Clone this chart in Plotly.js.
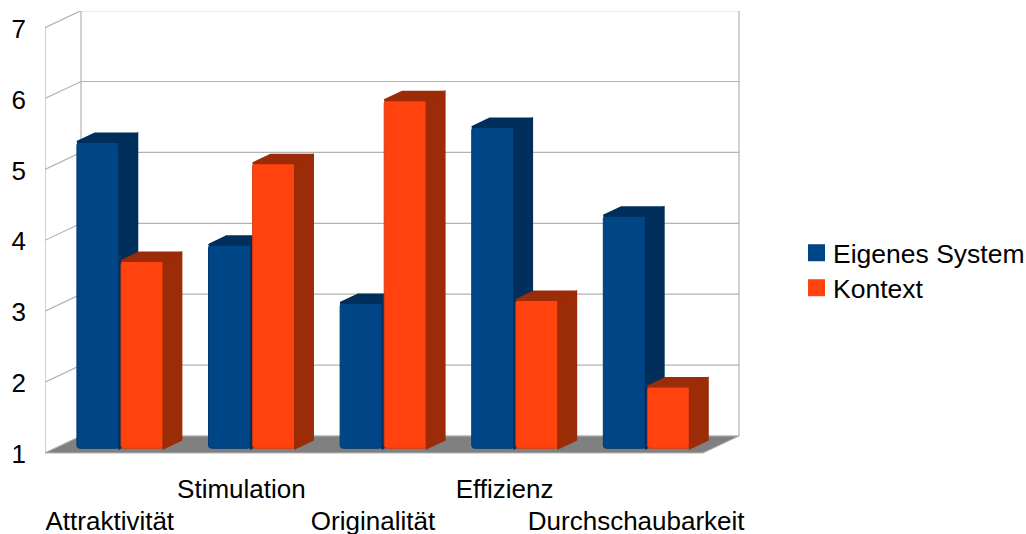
<!DOCTYPE html>
<html>
<head>
<meta charset="utf-8">
<script src="https://cdn.plot.ly/plotly-3.0.1.min.js"></script>
<style>
  html, body { margin: 0; padding: 0; background: #fff; }
  #chart { width: 1026px; height: 534px; }
</style>
</head>
<body>
<div id="chart"></div>
<script>
// UX rating per quality dimension, two series on a 1-7 scale
const categories = ["Attraktivität", "Stimulation", "Originalität", "Effizienz", "Durchschaubarkeit"];
const eigenesSystem = [5.32, 3.87, 3.05, 5.53, 4.28];
const kontext = [3.64, 5.02, 5.91, 3.09, 1.87];
const scaleTicks = [1, 2, 3, 4, 5, 6, 7];

const seriesColors = { blue: "#004586", orange: "#ff420e" };
const shadeColors = { blue: "#002f5c", orange: "#9c2c08" };
const edgeColors = { blue: "#003a72", orange: "#d93a0c" };
const wallColor = "#b3b3b3";
const floorColor = "#808080";

// Plot frame and unit sizes in pixels; the value 1 sits one pixel above the frame's bottom
const frame = { left: 45, right: 741, top: 11, bottom: 454 };
const slotPx = 131.6, unitPx = 70.9;
const wallDepth = { x: 36 / slotPx, y: 17 / unitPx };    // front plane to back wall
const barPlane = { x: 10.6 / slotPx, y: 4.7 / unitPx };  // front plane to the bars' front faces
const barDepth = { x: 18 / slotPx, y: 8.5 / unitPx };    // bar front face to bar rear face
const barWidth = 0.322;
const faceStroke = 2;

const xRange = [-0.5, -0.5 + (frame.right - frame.left) / slotPx];
const yRange = [1 - 1 / unitPx, 1 + (frame.bottom - 1 - frame.top) / unitPx];

// Polyline with gaps, from a list of segments
function joined(parts) {
  const xs = [], ys = [];
  parts.forEach(p => {
    p.forEach(c => { xs.push(c[0]); ys.push(c[1]); });
    xs.push(null); ys.push(null);
  });
  return { x: xs, y: ys };
}

// Side and top faces of each bar
function faces(values, offset, color, axes) {
  const side = [], top = [];
  values.forEach((v, i) => {
    const l = i + offset, r = l + barWidth, dx = barDepth.x, dy = barDepth.y;
    side.push([[r, v], [r + dx, v + dy], [r + dx, 1 + dy], [r, 1], [r, v]]);
    top.push([[l, v], [l + dx, v + dy], [r + dx, v + dy], [r, v], [l, v]]);
  });
  const poly = joined(side.concat(top));
  return {
    type: "scatter", mode: "lines", x: poly.x, y: poly.y, fill: "toself",
    fillcolor: color, line: { color: color, width: faceStroke }, xaxis: axes[0], yaxis: axes[1],
    showlegend: false, hoverinfo: "skip", cliponaxis: false
  };
}

function bars(name, values, offset, key, axes, legendId) {
  return {
    type: "bar", name: name, x: categories.map((_, i) => i), y: values.map(v => v - 1), base: 1,
    offset: offset, width: barWidth, xaxis: axes[0], yaxis: axes[1], cliponaxis: false, legend: legendId,
    marker: { color: seriesColors[key], cornerradius: 3, line: { color: edgeColors[key], width: 1 } },
    hoverinfo: "name+x+text", text: values.map(String), textposition: "none"
  };
}

// Chart walls and floor
const frontLeft = xRange[0];
const backLeft = frontLeft + wallDepth.x, backRight = categories.length - 0.5 + wallDepth.x;
const floor = joined([[
  [frontLeft, 1], [backLeft, 1 + wallDepth.y],
  [backRight, 1 + wallDepth.y], [categories.length - 0.5, 1], [frontLeft, 1]
]]);
const topTick = scaleTicks[scaleTicks.length - 1];
const wallParts = [
  [[frontLeft, 1], [frontLeft, topTick]],
  [[backLeft, 1 + wallDepth.y], [backLeft, topTick + wallDepth.y]],
  [[backRight, 1 + wallDepth.y], [backRight, topTick + wallDepth.y]]
];
scaleTicks.forEach(t => {
  wallParts.push([[frontLeft, t], [backLeft, t + wallDepth.y], [backRight, t + wallDepth.y]]);
});
const walls = joined(wallParts);

const data = [
  { type: "scatter", mode: "lines", x: walls.x, y: walls.y, line: { color: wallColor, width: 1.2 },
    showlegend: false, hoverinfo: "skip", cliponaxis: false },
  { type: "scatter", mode: "lines", x: floor.x, y: floor.y, fill: "toself", fillcolor: floorColor,
    line: { color: wallColor, width: 1 }, showlegend: false, hoverinfo: "skip", cliponaxis: false },
  faces(eigenesSystem, -0.338, shadeColors.blue, ["x2", "y2"]),
  bars("Eigenes System", eigenesSystem, -0.338, "blue", ["x2", "y2"], "legend"),
  faces(kontext, -0.003, shadeColors.orange, ["x3", "y3"]),
  bars("Kontext", kontext, -0.003, "orange", ["x3", "y3"], "legend2"),
  // An empty trace keeps the second label row's axis on the page
  { type: "scatter", x: [null], y: [null], xaxis: "x4", yaxis: "y", showlegend: false, hoverinfo: "skip" }
];

const barX = { range: [xRange[0] - barPlane.x, xRange[1] - barPlane.x], overlaying: "x", visible: false, fixedrange: true };
const barY = { range: [yRange[0] - barPlane.y, yRange[1] - barPlane.y], overlaying: "y", visible: false, fixedrange: true };

// Category labels sit in two staggered rows, each row on its own axis
const labelNudge = 1 / slotPx;
const rowOf = row => categories.map((c, i) => ({ c, i })).filter(e => e.i % 2 === row);
const labelAxis = (row, standoff) => ({
  range: xRange, tickmode: "array",
  tickvals: rowOf(row).map(e => e.i - labelNudge), ticktext: rowOf(row).map(e => e.c),
  tickangle: 0, showgrid: false, zeroline: false, showline: false, ticks: "",
  ticklabelstandoff: standoff, fixedrange: true
});

function legendAt(yPx) {
  return {
    x: (793 - frame.left) / (frame.right - frame.left), xanchor: "left",
    y: (frame.bottom - yPx) / (frame.bottom - frame.top), yanchor: "middle",
    font: { size: 26.5 }, bgcolor: "rgba(0,0,0,0)", itemwidth: 30
  };
}

const layout = {
  width: 1026, height: 534,
  paper_bgcolor: "#fff", plot_bgcolor: "rgba(0,0,0,0)",
  font: { family: "'Liberation Sans', Arial, sans-serif", size: 26, color: "#000" },
  margin: { l: frame.left, r: 1026 - frame.right, t: frame.top, b: 534 - frame.bottom, pad: 0, autoexpand: false },
  showlegend: true,
  legend: legendAt(253),
  legend2: legendAt(288),
  xaxis: labelAxis(1, 17),
  xaxis4: Object.assign(labelAxis(0, 49), { overlaying: "x", anchor: "y" }),
  yaxis: {
    range: yRange, tickmode: "array", tickvals: scaleTicks.map(t => t - 1 / unitPx), ticktext: scaleTicks.map(String),
    showgrid: false, zeroline: false, showline: false, ticks: "", ticklabelstandoff: 18, fixedrange: true
  },
  xaxis2: barX, yaxis2: barY,
  xaxis3: barX, yaxis3: barY
};

Plotly.newPlot("chart", data, layout, { displayModeBar: false, responsive: false }).then(() => {
  // Square legend keys, a little larger than the library's default
  document.querySelectorAll(".legend .legendpoints path, .legend2 .legendpoints path").forEach(p => {
    p.setAttribute("d", "M8.5,8.5H-8.5V-8.5H8.5Z");
    p.setAttribute("transform", "translate(23.5,0)");
    p.style.strokeWidth = "0";
  });
});
</script>
</body>
</html>
